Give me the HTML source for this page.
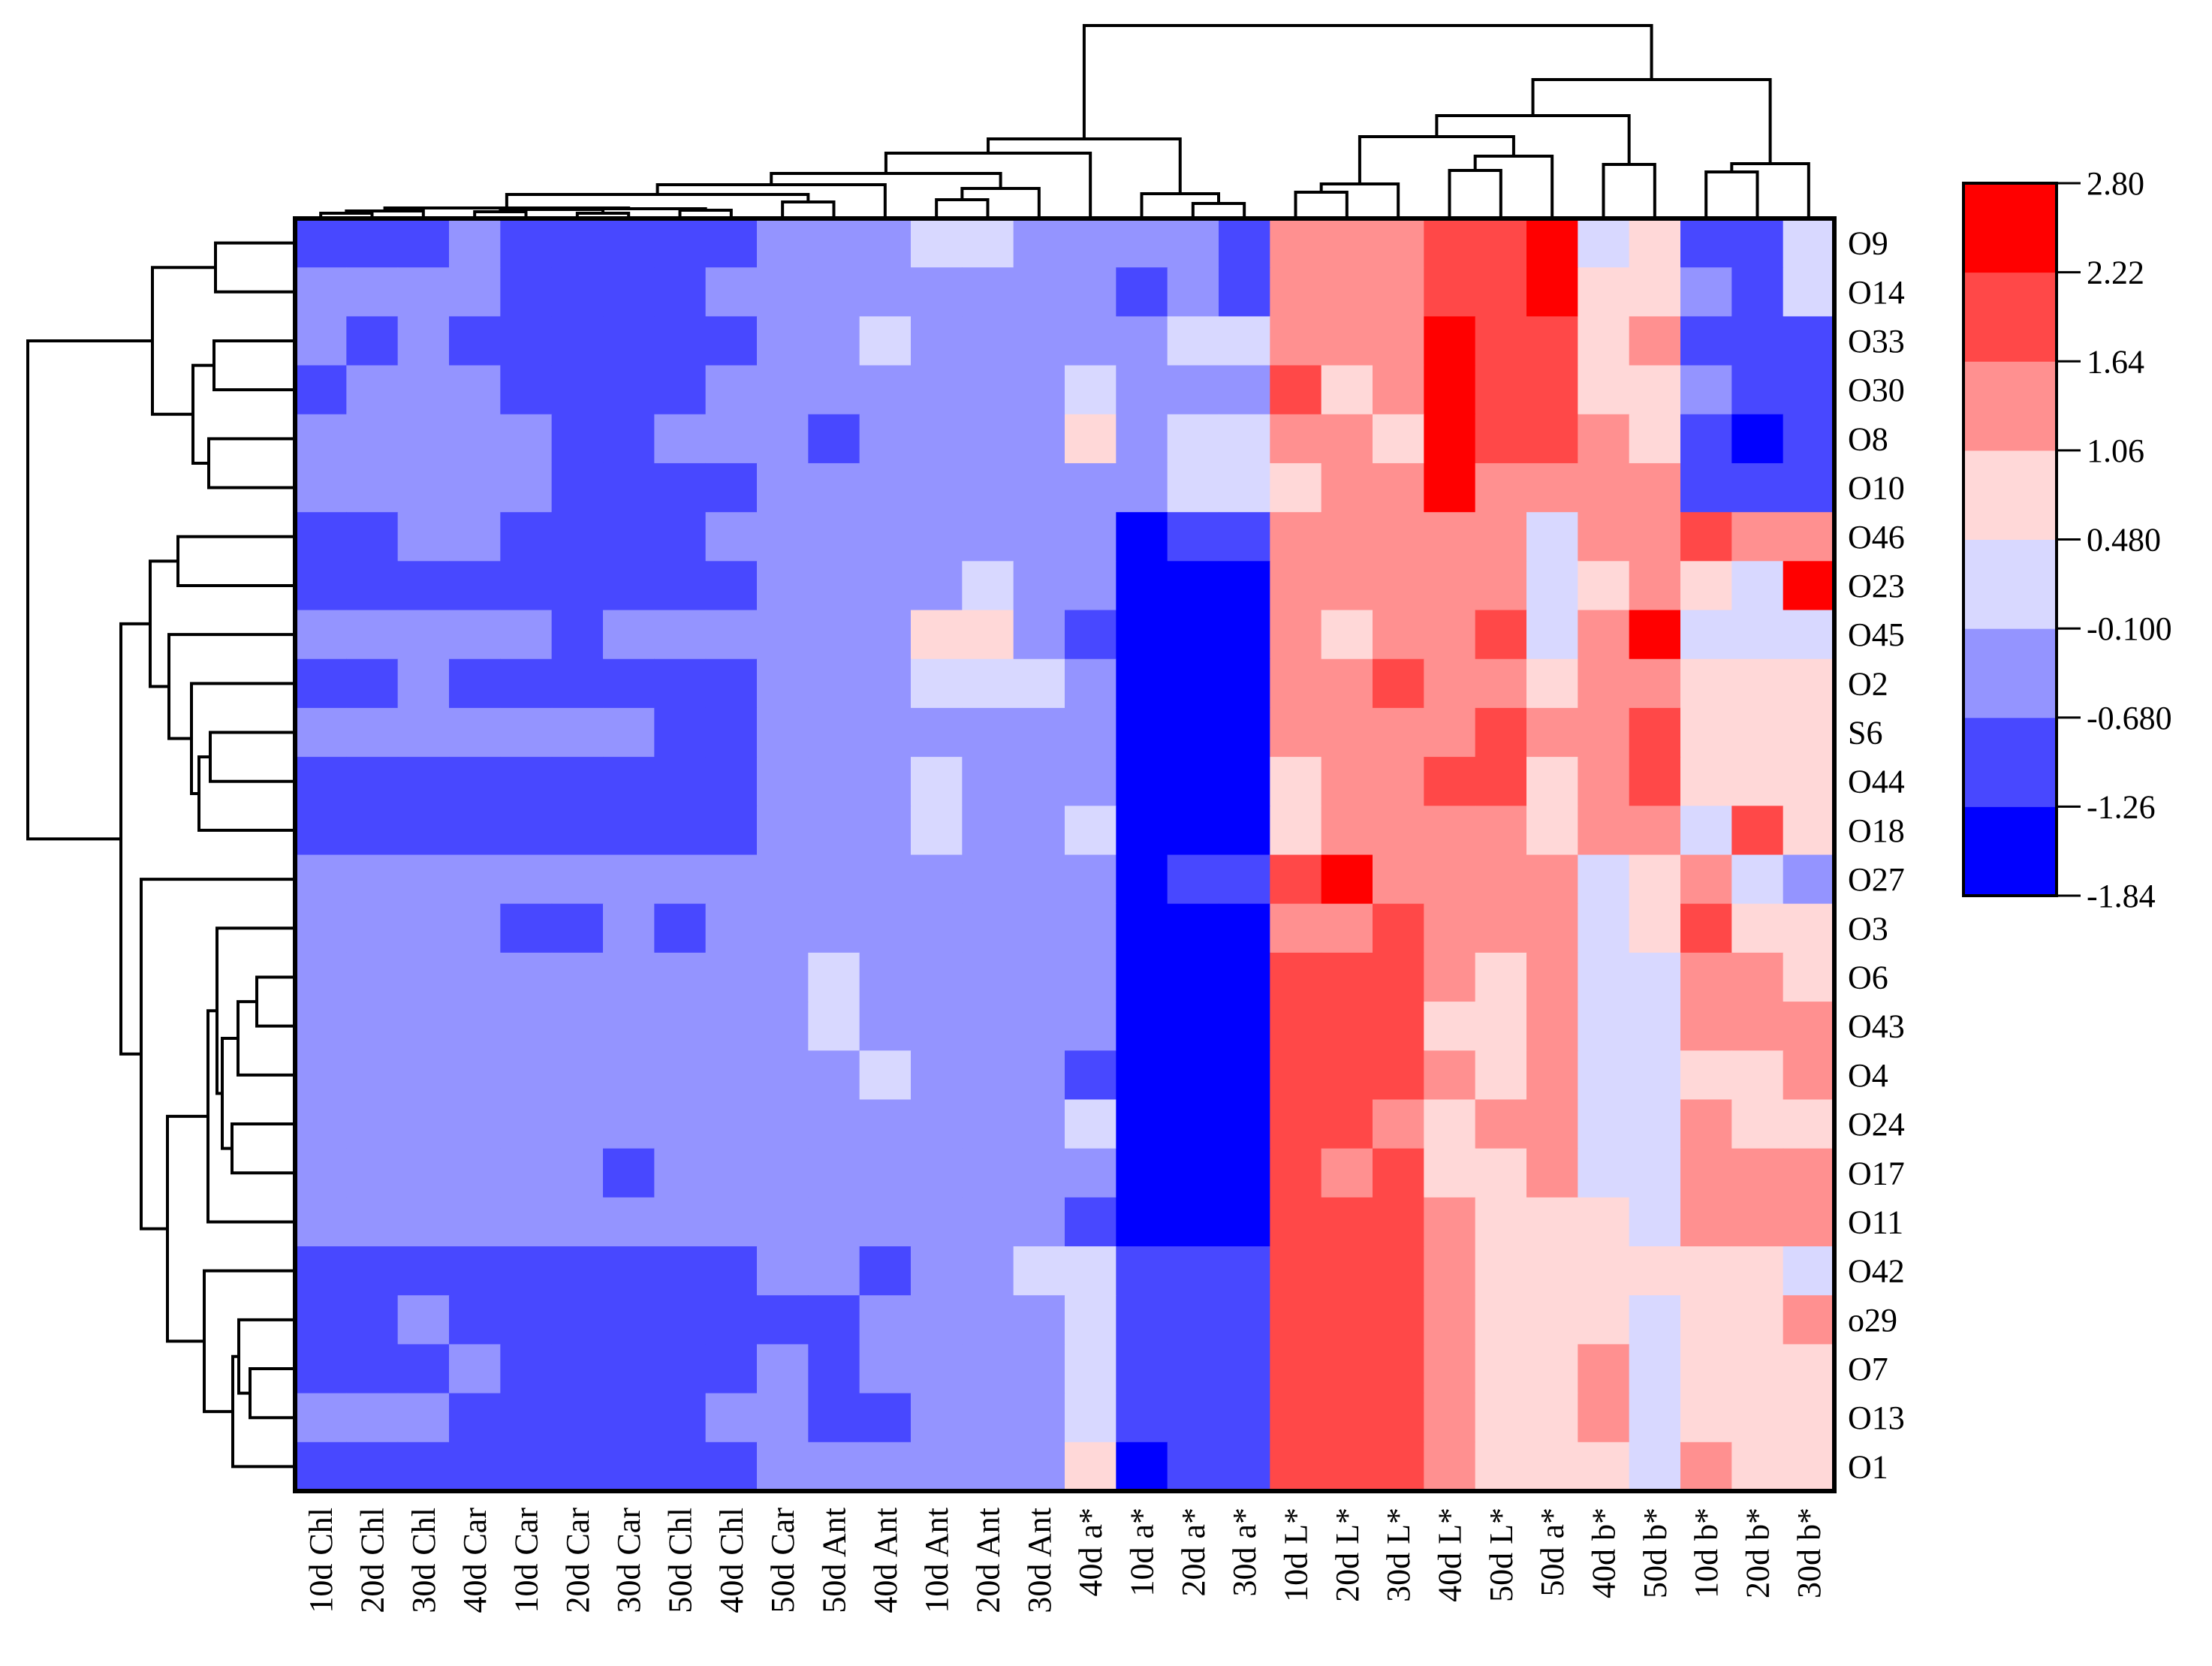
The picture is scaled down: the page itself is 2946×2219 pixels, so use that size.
<!DOCTYPE html>
<html><head><meta charset="utf-8"><style>
html,body{margin:0;padding:0;background:#fff;}
svg{display:block;}
text{font-family:"Liberation Serif",serif;fill:#000;}
</style></head><body>
<svg id="chart" width="2946" height="2219" viewBox="0 0 2946 2219" xmlns="http://www.w3.org/2000/svg"></svg>
<script>
const columnLabels = ["10d Chl","20d Chl","30d Chl","40d Car","10d Car","20d Car","30d Car","50d Chl","40d Chl","50d Car","50d Ant","40d Ant","10d Ant","20d Ant","30d Ant","40d a*","10d a*","20d a*","30d a*","10d L*","20d L*","30d L*","40d L*","50d L*","50d a*","40d b*","50d b*","10d b*","20d b*","30d b*"];
const rowLabels = ["O9","O14","O33","O30","O8","O10","O46","O23","O45","O2","S6","O44","O18","O27","O3","O6","O43","O4","O24","O17","O11","O42","o29","O7","O13","O1"];
const legendBreaks = [-1.84,-1.26,-0.68,-0.1,0.48,1.06,1.64,2.22,2.80];
const legendTickLabels = ["-1.84","-1.26","-0.680","-0.100","0.480","1.06","1.64","2.22","2.80"];
const binColors = ["#0000FF","#4848FF","#9494FF","#D8D8FF","#FFD8D8","#FF9090","#FF4848","#FF0000"];
// level (colour-bin) per cell, one string per row
const levelRows = [
"111211111222332222155566734113",
"222211112222222212155566744213",
"212111111223222223355576645111",
"122211112222222322264576644211",
"222221122212222423355476654101",
"222221111222222223345575555111",
"112211112222222201155555355655",
"111111111222232200055555345437",
"222221222222442100054556357333",
"112111111222333200055655455444",
"222222211222222200055556556444",
"111111111222322200045566456444",
"111111111222322300045555455364",
"222222222222222201167555534532",
"222211212222222200055655534644",
"222222222232222200066654533554",
"222222222232222200066644533555",
"222222222223222100066654533445",
"222222222222222300066545533544",
"222222122222222200065644533555",
"222222222222222100066654443555",
"111111111221223311166654444443",
"112111111112222311166654443445",
"111211111212222311166654453444",
"222111112211222311166654453444",
"111111111222222401166654443544"
];
const values = levelRows.map(r => r.split("").map(ch => { const l = +ch; return (legendBreaks[l] + legendBreaks[l+1]) / 2; }));
// dendrograms: [childA, childB, distance]; negative = -(mergeIndex+1)
const topMerges = [[0,1,7],[-1,2,10],[3,4,9],[5,6,7],[-3,-4,12],[7,8,11],[-5,-6,13],[-2,-7,14],[9,10,22],[-8,-9,32],[-10,11,45],[12,13,25],[-12,14,40],[-11,-13,60],[-14,15,87],[17,18,20],[16,-16,33],[-15,-17,106],[19,20,35],[-19,21,46],[22,23,64],[-21,24,83],[-20,-22,109],[25,26,72],[-23,-24,137],[27,28,62],[-26,29,73],[-25,-27,185],[-18,-28,257]];
const leftMerges = [[0,1,106],[2,3,108],[4,5,115],[-2,-3,136],[-1,-4,190],[6,7,156],[10,11,113],[-7,12,128],[9,-8,138],[8,-9,168],[-6,-10,193],[15,16,51],[-12,17,76],[18,19,84],[-13,-14,97],[14,-15,104],[-16,20,116],[23,24,60],[22,-18,75],[-19,25,83],[21,-20,121],[-17,-21,170],[13,-22,205],[-11,-23,232],[-5,-24,356]];

const NS = "http://www.w3.org/2000/svg";
const svg = document.getElementById("chart");
const L = 393, R = 2443, T = 291, B = 1986;
const cw = (R - L) / columnLabels.length, rh = (B - T) / rowLabels.length;
const xOf = i => L + cw * (i + 0.5);
const yOf = j => T + rh * (j + 0.5);
function colorOf(v){ for (let k = 0; k < binColors.length; k++) { if (v <= legendBreaks[k+1]) return binColors[k]; } return binColors[binColors.length-1]; }
function mk(tag, attrs){ const e = document.createElementNS(NS, tag); for (const k in attrs) e.setAttribute(k, attrs[k]); svg.appendChild(e); return e; }

// cells
values.forEach((row, j) => row.forEach((v, i) => {
  const r = mk("rect", {x: L + cw*i, y: T + rh*j, width: cw + 0.6, height: rh + 0.6, fill: colorOf(v)});
  
  
}));
const frame = mk("rect", {x: L, y: T, width: R-L, height: B-T, fill: "none", stroke: "#000", "stroke-width": 6});



// dendrogram drawing
function drawDendro(merges, posFn, baseFn, horizontal, name){
  const nodes = [];
  const get = c => c >= 0 ? {p: posFn(c), d: 0} : nodes[-c-1];
  const g = document.createElementNS(NS, "g");
  
  
  svg.appendChild(g);
  merges.forEach(([a,b,h]) => {
    const A = get(a), Bn = get(b);
    let d;
    if (horizontal) {
      d = `M${A.p},${baseFn(A.d)}V${baseFn(h)}H${Bn.p}V${baseFn(Bn.d)}`;
    } else {
      d = `M${baseFn(A.d)},${A.p}H${baseFn(h)}V${Bn.p}H${baseFn(Bn.d)}`;
    }
    const p = document.createElementNS(NS, "path");
    p.setAttribute("d", d); p.setAttribute("fill","none"); p.setAttribute("stroke","#000"); p.setAttribute("stroke-width","4");
    
    
    g.appendChild(p);
    nodes.push({p: (A.p + Bn.p)/2, d: h});
  });
}
drawDendro(topMerges, xOf, d => T - d, true, "column-dendrogram");
drawDendro(leftMerges, yOf, d => L - d, false, "row-dendrogram");

// row labels
rowLabels.forEach((t, j) => {
  const e = mk("text", {x: 2461, y: yOf(j) + 15, "font-size": 44});
  e.textContent = t;
  
  
});
// column labels
columnLabels.forEach((t, i) => {
  const x = xOf(i) + 15, y = 2008;
  const e = mk("text", {x: x, y: y, "font-size": 44, "text-anchor": "end", transform: `rotate(-90 ${x} ${y})`});
  e.textContent = t;
  
  
});
// legend
const LX = 2615, LW = 124, LT = 244, LB = 1193;
const binH = (LB - LT) / binColors.length;
binColors.forEach((c, k) => {
  const r = mk("rect", {x: LX, y: LB - binH*(k+1), width: LW, height: binH + 0.5, fill: c});
  
  
});
const lf = mk("rect", {x: LX, y: LT, width: LW, height: LB-LT, fill: "none", stroke: "#000", "stroke-width": 4});


legendTickLabels.forEach((t, k) => {
  const y = LB - binH*k;
  const tk = mk("line", {x1: LX+LW, x2: LX+LW+32, y1: y, y2: y, stroke: "#000", "stroke-width": 3});
  
  
  const e = mk("text", {x: 2779, y: y + 15, "font-size": 44});
  e.textContent = t;
  
  
});
</script>
</body></html>
